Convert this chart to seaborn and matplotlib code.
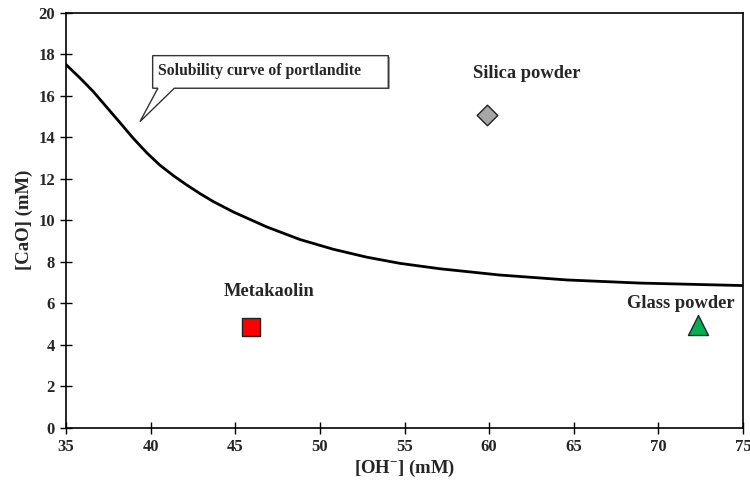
import matplotlib
matplotlib.use("Agg")
import matplotlib.pyplot as plt
import seaborn as sns
import pandas as pd
from matplotlib.patches import Polygon

# ---- data ----
curve_oh = [35, 35.83, 36.61, 37.4, 38.19, 38.97, 39.77, 40.55, 41.34, 42.13, 42.92, 43.7,
            44.88, 46.85, 48.82, 50.79, 52.76, 54.73, 57.09, 60.6, 64.6, 68.9, 75]
curve_cao = [17.5, 16.85, 16.2, 15.45, 14.7, 13.95, 13.25, 12.65, 12.15, 11.7, 11.28, 10.9,
             10.4, 9.68, 9.07, 8.6, 8.22, 7.92, 7.66, 7.36, 7.12, 6.97, 6.85]

materials = ["Metakaolin", "Silica powder", "Glass powder"]
mat_oh = [45.94, 59.9, 72.35]
mat_cao = [4.83, 15.07, 4.95]
mat_colors = ["#FF0000", "#A6A6A6", "#00B050"]
mat_markers = ["s", "D", "^"]
mat_sizes = [185, 110, 207]

x_ticks = [35, 40, 45, 50, 55, 60, 65, 70, 75]
y_ticks = [0, 2, 4, 6, 8, 10, 12, 14, 16, 18, 20]

sns.set_theme(style="white")
plt.rcParams["font.family"] = ["Liberation Serif", "DejaVu Serif"]
plt.rcParams["font.weight"] = "bold"
plt.rcParams["mathtext.fontset"] = "custom"
plt.rcParams["mathtext.rm"] = "Liberation Serif:bold"
plt.rcParams["mathtext.bf"] = "Liberation Serif:bold"
plt.rcParams["mathtext.it"] = "Liberation Serif:bold"

fig = plt.figure(figsize=(7.5, 4.84), dpi=100)
ax = fig.add_axes([0.088, 0.1163, 0.9027, 0.8575])

curve_df = pd.DataFrame({"OH": curve_oh, "CaO": curve_cao})
sns.lineplot(data=curve_df, x="OH", y="CaO", sort=False, estimator=None,
             color="black", lw=2.0, ax=ax)

for name, xo, yc, col, mk, sz in zip(materials, mat_oh, mat_cao, mat_colors, mat_markers, mat_sizes):
    df = pd.DataFrame({"OH": [xo], "CaO": [yc]})
    sns.scatterplot(data=df, x="OH", y="CaO", marker=mk, s=sz, color=col,
                    edgecolor="#222222", linewidth=1.0, ax=ax, zorder=5)

# material labels
label_pos = {"Metakaolin": (47.0, 6.55), "Silica powder": (62.2, 17.08), "Glass powder": (71.35, 6.0)}
for name in materials:
    lx, ly = label_pos[name]
    ax.text(lx, ly, name, ha="center", va="center", fontsize=13.3, fontweight="bold", zorder=6)

# callout box
shadow = Polygon([(40.2, 17.87), (54.12, 17.87), (54.12, 16.3), (40.2, 16.3)],
                 closed=True, fc="#999999", ec="none", zorder=3)
ax.add_patch(shadow)
callout = Polygon([(40.12, 17.93), (54.04, 17.93), (54.04, 16.36), (41.4, 16.36),
                   (39.37, 14.75), (40.43, 16.36), (40.12, 16.36)],
                  closed=True, fc="white", ec="#333333", lw=1.0, zorder=4)
ax.add_patch(callout)
ax.text(40.43, 17.2, "Solubility curve of portlandite", ha="left", va="center",
        fontsize=11.3, fontweight="bold", zorder=6)

ax.set_xlim(35, 75)
ax.set_ylim(0, 20)
ax.set_xticks(x_ticks)
ax.set_yticks(y_ticks)
ax.tick_params(axis="both", direction="inout", length=8, width=1.0, color="black",
               labelsize=12, bottom=True, left=True, pad=4)
for lab in ax.get_xticklabels() + ax.get_yticklabels():
    lab.set_fontweight("bold")

ax.set_xlabel("[OH$^{-}$] (mM)", fontsize=13.5, fontweight="bold", labelpad=2)
ax.set_ylabel("[CaO] (mM)", fontsize=13.5, fontweight="bold", labelpad=4)

for sp in ax.spines.values():
    sp.set_color("black")
    sp.set_linewidth(1.2)
    sp.set_visible(True)

fig.savefig("out.png", dpi=100)
